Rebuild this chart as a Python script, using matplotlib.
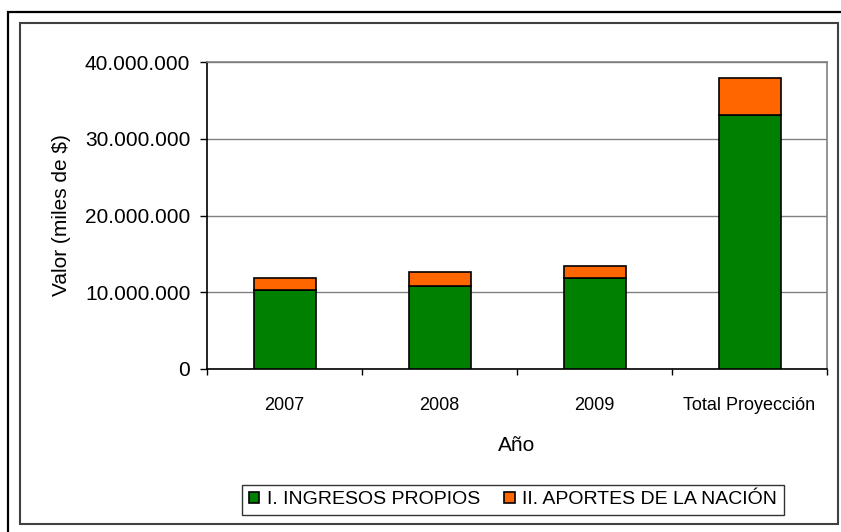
import matplotlib
matplotlib.use("Agg")
import matplotlib.pyplot as plt
from matplotlib.patches import Rectangle, Patch
from matplotlib.ticker import FuncFormatter, FixedLocator

plt.rcParams['font.family'] = ['Liberation Sans', 'DejaVu Sans']

# datos (miles de $)
categorias = ["2007", "2008", "2009", "Total Proyección"]
ingresos_propios = [10350000, 10870000, 11860000, 33080000]
aportes_nacion = [1550000, 1810000, 1520000, 4880000]
series_nombres = ["I. INGRESOS PROPIOS", "II. APORTES DE LA NACIÓN"]
colores = ["#008000", "#FF6600"]

W, H = 841, 532
fig = plt.figure(figsize=(W / 100, H / 100), dpi=100)

# marcos exteriores
fig.patches.append(Rectangle((8 / W, 1 - 560 / H), 840 / W, 548 / H, transform=fig.transFigure,
                             fill=False, edgecolor="black", linewidth=1.6))
fig.patches.append(Rectangle((20 / W, 1 - 524 / H), 818 / W, 501 / H, transform=fig.transFigure,
                             fill=False, edgecolor="#404040", linewidth=1.5))

# area del grafico
left, right, top, bottom = 207, 827, 62, 369
ax = fig.add_axes([left / W, 1 - bottom / H, (right - left) / W, (bottom - top) / H])

x = list(range(len(categorias)))
ax.bar(x, ingresos_propios, width=0.4, color=colores[0], edgecolor="black", linewidth=1.2, zorder=3)
ax.bar(x, aportes_nacion, width=0.4, bottom=ingresos_propios, color=colores[1],
       edgecolor="black", linewidth=1.2, zorder=3)

ax.set_xlim(-0.5, len(categorias) - 0.5)
ax.set_ylim(0, 40000000)
ax.set_yticks([0, 10000000, 20000000, 30000000, 40000000])
ax.yaxis.set_major_formatter(FuncFormatter(lambda v, p: f"{int(v):,}".replace(",", ".")))
ax.yaxis.grid(True, color="#808080", linewidth=1.0, zorder=0)

ax.set_xticks(x)
ax.set_xticklabels(categorias, fontsize=13)
ax.xaxis.set_minor_locator(FixedLocator([-0.5, 0.5, 1.5, 2.5, 3.5]))
ax.tick_params(axis="x", which="major", length=0, pad=20)
ax.tick_params(axis="x", which="minor", length=4, width=1, color="black")
ax.tick_params(axis="y", labelsize=15, length=5, width=1, pad=7, color="black")

ax.set_xlabel("Año", fontsize=15, labelpad=16)
ax.set_ylabel("Valor (miles de $)", fontsize=15, labelpad=10)

for s in ["top", "right"]:
    ax.spines[s].set_color("#808080")
    ax.spines[s].set_linewidth(1.2)
for s in ["left", "bottom"]:
    ax.spines[s].set_color("black")
    ax.spines[s].set_linewidth(1.2)

handles = [Patch(facecolor=c, edgecolor="black", linewidth=1.2) for c in colores]
leg = fig.legend(handles, series_nombres, loc="center", bbox_to_anchor=(513 / W, 1 - 500 / H),
                 ncol=2, fontsize=14, frameon=True, fancybox=False, handlelength=0.55,
                 handleheight=0.55, handletextpad=0.4, columnspacing=1.2, borderpad=0.35,
                 borderaxespad=0)
leg.get_frame().set_edgecolor("black")
leg.get_frame().set_linewidth(1.0)

fig.savefig("out.png", dpi=100)
